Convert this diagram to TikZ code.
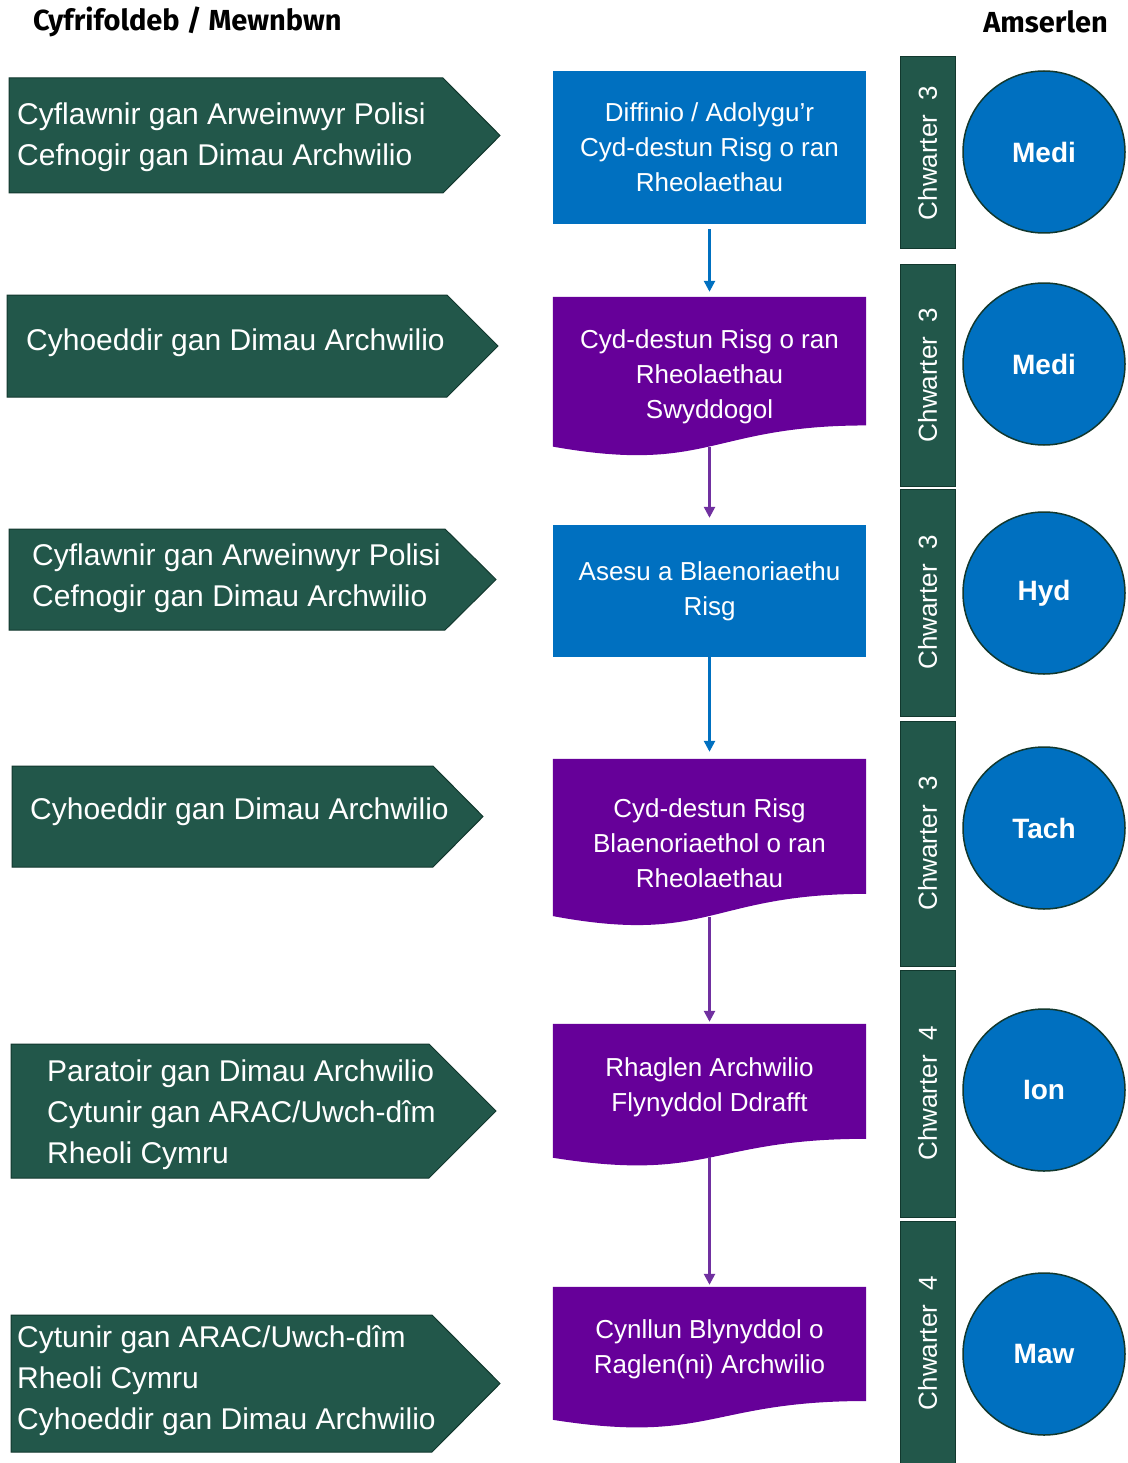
\documentclass[tikz,border=0pt]{standalone}
\usepackage{fontspec}
\setmainfont{Liberation Sans}
\newfontfamily\headfont{Fira Sans}
\usetikzlibrary{positioning}
\usetikzlibrary{arrows.meta}
\usetikzlibrary{calc}
\usetikzlibrary{backgrounds}
\definecolor{cwgreen}{RGB}{34,87,74}
\definecolor{cwgreend}{RGB}{18,56,46}
\definecolor{cwblue}{RGB}{0,112,192}
\definecolor{cwpurple}{RGB}{102,0,153}
\definecolor{cwviolet}{RGB}{112,48,160}
\tikzset{
    header/.style = {inner sep=0, font=\headfont\bfseries\fontsize{29}{34}\selectfont},
    rolearrow/.style = {fill=cwgreen, draw=cwgreend, line width=1pt},
    roletext/.style = {anchor=west, align=left, inner sep=0, text=white, font=\fontsize{30}{41}\selectfont},
    stagebox/.style = {rectangle, fill=cwblue, minimum width=313pt, inner sep=0, align=center, text=white, font=\fontsize{26}{35}\selectfont},
    docbox/.style = {rectangle, minimum width=313pt, inner sep=0, align=center, text=white, font=\fontsize{26}{35}\selectfont},
    quarter/.style = {rectangle, fill=cwgreen, draw=cwgreend, line width=1pt, minimum height=55pt, inner sep=0, rotate=90, text=white, font=\fontsize{26}{30}\selectfont},
    month/.style = {circle, fill=cwblue, draw=cwgreend, line width=1.5pt, minimum size=162pt, inner sep=0, text=white, font=\bfseries\fontsize{28}{32}\selectfont},
    edgeb/.style = {-{Triangle[width=11pt,length=11pt]}, line width=2.5pt, cwblue},
    edgep/.style = {-{Triangle[width=11pt,length=11pt]}, line width=2.5pt, cwviolet, shorten <=-10pt} % from the wave
}
% purple document shape under a docbox node
\newcommand{\docshape}[1]{%
  \fill[cwpurple] (#1.north west) -- (#1.north east)
    -- ($(#1.north east)!0.802!(#1.south east)$)
    .. controls ($(#1.north)!0.802!(#1.south)$) and ($(#1.north)!1.1075!(#1.south)$)
    .. ($(#1.north west)!0.934!(#1.south west)$) -- cycle;}

\begin{document}
\begin{tikzpicture}[x=1pt, y=-1pt]
  \useasboundingbox (0,0) rectangle (1127,1463);

  \node[header, anchor=west] (hin) at (33,22) {Cyfrifoldeb / Mewnbwn};
  \node[header, anchor=east] (hout) at (1108,22) {Amserlen};

  % responsibility arrows
  \draw[rolearrow] (9,78) -- (443,78) -- (500,135.5) -- (443,193) -- (9,193) -- cycle;
  \draw[rolearrow] (7,295) -- (447,295) -- (498,346) -- (447,397) -- (7,397) -- cycle;
  \draw[rolearrow] (9,529) -- (445,529) -- (496,579.5) -- (445,630) -- (9,630) -- cycle;
  \draw[rolearrow] (12,766) -- (433,766) -- (483,816.5) -- (433,867) -- (12,867) -- cycle;
  \draw[rolearrow] (11,1044) -- (429,1044) -- (496,1111) -- (429,1178) -- (11,1178) -- cycle;
  \draw[rolearrow] (11,1315) -- (432,1315) -- (500,1383.5) -- (432,1452) -- (11,1452) -- cycle;

  \node[roletext] (r1) at (17,137) {Cyflawnir gan Arweinwyr Polisi\\Cefnogir gan Dimau Archwilio};
  \node[roletext] (r2) at (26,343) {Cyhoeddir gan Dimau Archwilio};
  \node[roletext] (r3) at (32,578) {Cyflawnir gan Arweinwyr Polisi\\Cefnogir gan Dimau Archwilio};
  \node[roletext] (r4) at (30,812) {Cyhoeddir gan Dimau Archwilio};
  \node[roletext] (r5) at (47,1115) {Paratoir gan Dimau Archwilio\\Cytunir gan ARAC/Uwch-dîm\\Rheoli Cymru};
  \node[roletext] (r6) at (17,1381) {Cytunir gan ARAC/Uwch-dîm\\Rheoli Cymru\\Cyhoeddir gan Dimau Archwilio};

  % process
  \node[stagebox, minimum height=153pt] (b1) at (709.5,147.5) {Diffinio / Adolygu'r\\Cyd-destun Risg o ran\\Rheolaethau};
  \node[docbox, minimum height=160pt] (p1) at (709.5,377) {Cyd-destun Risg o ran\\Rheolaethau\\Swyddogol};
  \node[stagebox, minimum height=132pt] (b2) at (709.5,591) {Asesu a Blaenoriaethu\\Risg};
  \node[docbox, minimum height=168pt] (p2) at (709.5,843) {Cyd-destun Risg\\Blaenoriaethol o ran\\Rheolaethau};
  \node[docbox, minimum height=143pt, text depth=22pt] (p3) at (709.5,1095.5) {Rhaglen Archwilio\\Flynyddol Ddrafft};
  \node[docbox, minimum height=142pt, text depth=22pt] (p4) at (709.5,1358) {Cynllun Blynyddol o\\Raglen(ni) Archwilio};

  \draw[edgeb, shorten <=5pt, shorten >=5pt] (b1) -- (p1);
  \draw[edgep, shorten >=7pt] (p1) -- (b2);
  \draw[edgeb, shorten >=7pt] (b2) -- (p2);
  \draw[edgep, shorten >=2pt] (p2) -- (p3);
  \draw[edgep, shorten >=2pt] (p3) -- (p4);

  % timetable
  \node[quarter, minimum width=192pt] (q1) at (927.5,153) {Chwarter~~3};
  \node[quarter, minimum width=222pt] (q2) at (927.5,375) {Chwarter~~3};
  \node[quarter, minimum width=227pt] (q3) at (927.5,602.5) {Chwarter~~3};
  \node[quarter, minimum width=245pt] (q4) at (927.5,843.5) {Chwarter~~3};
  \node[quarter, minimum width=247pt] (q5) at (927.5,1093.5) {Chwarter~~4};
  \node[quarter, minimum width=244pt] (q6) at (927.5,1343) {Chwarter~~4};

  \node[month] (m1) at (1044,152) {Medi};
  \node[month] (m2) at (1044,364) {Medi};
  \node[month] (m3) at (1044,593) {Hyd};
  \node[month] (m4) at (1044,828) {Tach};
  \node[month] (m5) at (1044,1090) {Ion};
  \node[month] (m6) at (1044,1354) {Maw};

  \begin{scope}[on background layer]
    \fill[white] (0,0) rectangle (1127,1463);
    \docshape{p1}
    \docshape{p2}
    \docshape{p3}
    \docshape{p4}
  \end{scope}
\end{tikzpicture}
\end{document}
